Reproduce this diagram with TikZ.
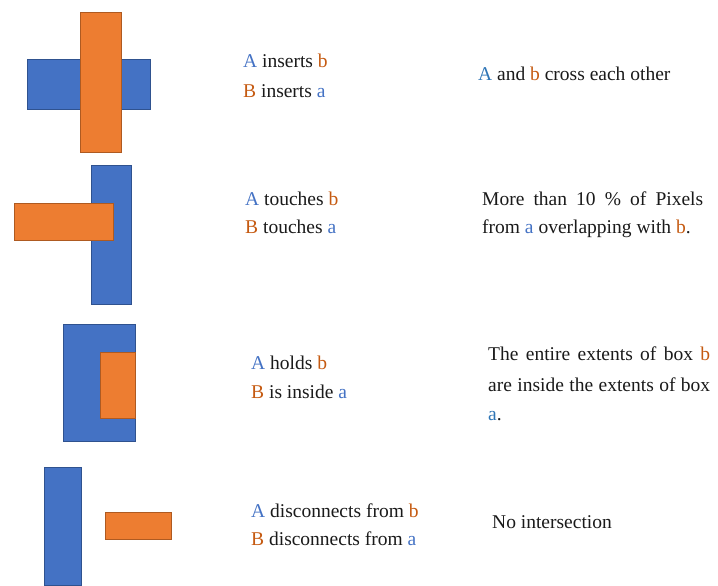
\documentclass[tikz,border=0pt]{standalone}
\usepackage{fontspec}
\setmainfont{Liberation Serif}
\definecolor{bfill}{HTML}{4472C4}
\definecolor{bline}{HTML}{2F528F}
\definecolor{ofill}{HTML}{ED7D31}
\definecolor{oline}{HTML}{AE5A21}
\definecolor{tblue}{HTML}{4472C4}
\definecolor{tblueB}{HTML}{2E75B6}
\definecolor{torange}{HTML}{C55A11}
\definecolor{tblack}{HTML}{1A1A1A}
\newcommand\myA{\textcolor{tblue}{A}}
\newcommand\myB{\textcolor{torange}{B}}
\newcommand\mya{\textcolor{tblue}{a}}
\newcommand\myb{\textcolor{torange}{b}}
\begin{document}
\begin{tikzpicture}[x=1pt,y=-1pt,
  bluebox/.style={fill=bfill,draw=bline,line width=1pt},
  orangebox/.style={fill=ofill,draw=oline,line width=1pt},
  txt/.style={anchor=base west,inner sep=0pt,text=tblack,font=\fontsize{19.5}{23}\selectfont}]
\useasboundingbox (0,0) rectangle (718,586);
% row 1
\draw[bluebox] (27,60) rectangle (150,109);
\draw[orangebox] (80,13) rectangle (121,152);
\node[txt] (r1a) at (243,68) {\myA\ inserts \myb};
\node[txt] (r1b) at (243,97) {\myB\ inserts \mya};
\node[txt] (r1c) at (478,81) {\textcolor{tblueB}{A} and \myb\ cross each other};
% row 2
\draw[bluebox] (91,165) rectangle (131,304);
\draw[orangebox] (14,203) rectangle (113,240);
\node[txt] (r2a) at (245,205) {\myA\ touches \myb};
\node[txt] (r2b) at (245,233) {\myB\ touches \mya};
\node[txt] (r2c) at (482,205) {\makebox[221pt][s]{More than 10 \% of Pixels}};
\node[txt] (r2d) at (482,233) {from \mya\ overlapping with \myb.};
% row 3
\draw[bluebox] (63,324) rectangle (135,441);
\draw[orangebox] (100,352) rectangle (135,418);
\node[txt] (r3a) at (251,369) {\myA\ holds \myb};
\node[txt] (r3b) at (251,398) {\myB\ is inside \mya};
\node[txt] (r3c) at (488,360) {\makebox[222pt][s]{The entire extents of box \myb}};
\node[txt] (r3d) at (488,391) {\makebox[222pt][s]{are inside the extents of box}};
\node[txt] (r3e) at (488,420) {\textcolor{tblueB}{a}.};
% row 4
\draw[bluebox] (44,467) rectangle (81,585);
\draw[orangebox] (105,512) rectangle (171,539);
\node[txt] (r4a) at (251,517) {\myA\ disconnects from \myb};
\node[txt] (r4b) at (251,545) {\myB\ disconnects from \mya};
\node[txt] (r4c) at (492,528) {No intersection};
\end{tikzpicture}
\end{document}
